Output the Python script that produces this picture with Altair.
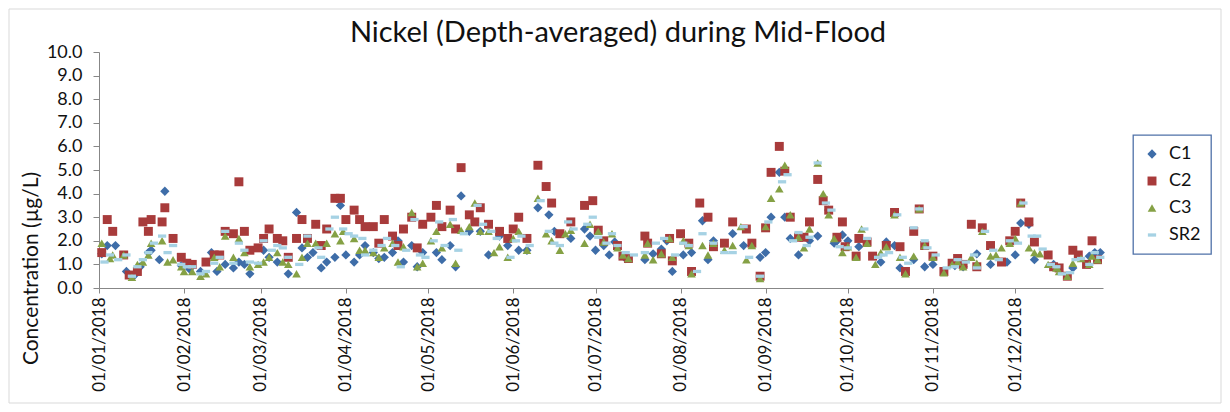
import altair as alt
import pandas as pd

# ---- data (day offset from 2018-01-01, value in ug/L) ----
c1_days = [1, 3, 6, 10, 13, 15, 18, 19, 22, 24, 30, 33, 37, 41, 43, 46, 49, 51, 53, 55,
           60, 62, 65, 69, 72, 74, 76, 78, 81, 83, 86, 88, 90, 93, 95, 97, 100, 102, 104, 107,
           109, 111, 114, 116, 118, 123, 125, 128, 130, 132, 135, 139, 142, 146, 149, 153, 156, 160, 164, 166,
           172, 177, 179, 181, 184, 186, 188, 192, 199, 202, 205, 207, 209, 213, 216, 220, 222, 224, 231, 235,
           241, 243, 245, 248, 250, 252, 255, 259, 262, 266, 268, 269, 271, 273, 277, 285, 287, 290, 292, 297,
           301, 304, 312, 315, 320, 325, 331, 334, 336, 339, 341, 348, 355, 361, 363, 365]
c1_vals = [1.45, 1.8, 1.8, 0.7, 0.55, 0.9, 1.5, 1.6, 1.2, 4.1, 0.95, 0.8, 0.7, 1.5, 0.7, 1.0, 0.85, 1.1, 1.0, 0.6,
           1.6, 1.3, 1.1, 0.6, 3.2, 1.7, 1.3, 1.5, 0.85, 1.1, 1.3, 3.5, 1.4, 1.1, 1.4, 1.8, 1.5, 1.25, 1.3, 1.5,
           2.0, 1.1, 1.8, 0.9, 1.5, 1.5, 1.2, 1.8, 0.9, 3.9, 2.4, 2.4, 1.4, 2.2, 1.8, 1.6, 1.6, 3.4, 3.1, 2.4,
           2.1, 2.5, 2.2, 1.6, 1.8, 1.4, 1.95, 1.25, 1.2, 1.45, 1.65, 2.0, 0.7, 1.4, 1.5, 2.85, 1.2, 2.0, 2.3, 1.8,
           1.3, 1.5, 3.0, 4.9, 3.0, 2.1, 1.4, 2.0, 2.2, 3.3, 1.9, 2.0, 2.25, 2.0, 1.75, 1.1, 1.95, 1.8, 0.85, 1.2,
           0.9, 1.0, 0.95, 0.9, 1.45, 1.0, 1.1, 1.4, 2.75, 2.7, 1.2, 1.0, 0.85, 1.35, 1.5, 1.5]

c2_days = [1, 3, 5, 9, 11, 14, 16, 18, 19, 23, 24, 27, 30, 32, 34, 39, 42, 44, 46, 49,
           51, 53, 55, 58, 60, 62, 65, 67, 69, 72, 74, 76, 79, 81, 83, 86, 88, 90, 93, 95,
           97, 100, 102, 104, 107, 109, 111, 114, 116, 118, 121, 123, 125, 128, 130, 132, 135, 137, 139, 142,
           146, 149, 151, 153, 156, 160, 163, 165, 168, 172, 177, 180, 182, 184, 189, 191, 193, 199, 200, 205,
           208, 209, 212, 215, 216, 219, 222, 224, 228, 231, 236, 238, 241, 243, 245, 248, 250, 252, 255, 257,
           259, 262, 264, 266, 269, 271, 272, 276, 277, 280, 282, 287, 290, 292, 294, 297, 299, 301, 304, 308,
           311, 313, 315, 318, 320, 322, 325, 329, 332, 334, 336, 339, 341, 346, 348, 350, 353, 355, 357, 360,
           362, 364]
c2_vals = [1.5, 2.9, 2.4, 1.4, 0.55, 0.7, 2.8, 2.4, 2.9, 2.8, 3.4, 2.1, 1.3, 1.05, 1.0, 1.1, 1.4, 1.4, 2.4, 2.3,
           4.5, 2.4, 1.6, 1.7, 2.1, 2.5, 2.1, 2.0, 1.3, 2.1, 2.9, 2.1, 2.7, 1.8, 2.5, 3.8, 3.8, 2.9, 3.3, 2.9,
           2.6, 2.6, 1.9, 2.9, 2.2, 1.8, 2.5, 3.0, 1.7, 2.7, 3.0, 3.5, 2.6, 3.3, 2.5, 5.1, 3.1, 2.8, 3.4, 2.7,
           2.4, 2.1, 2.5, 3.0, 2.1, 5.2, 4.3, 3.6, 2.3, 2.8, 3.5, 3.7, 2.45, 2.0, 1.8, 1.35, 1.25, 2.2, 1.9, 1.45,
           2.1, 1.15, 2.3, 1.9, 0.7, 3.6, 3.0, 1.75, 1.9, 2.8, 2.5, 1.9, 0.5, 2.55, 4.9, 6.0, 4.95, 3.0, 2.15, 2.15,
           2.8, 4.6, 3.7, 3.3, 2.15, 2.8, 1.75, 1.35, 2.1, 1.95, 1.35, 1.8, 3.2, 1.75, 0.7, 2.4, 3.35, 1.8, 1.35, 0.7,
           1.05, 1.25, 1.0, 2.7, 0.9, 2.55, 1.8, 1.1, 2.0, 2.4, 3.6, 2.8, 1.95, 1.4, 0.9, 0.85, 0.5, 1.6, 1.4, 1.0,
           2.0, 1.2]

c3_days = [1, 4, 5, 9, 12, 14, 16, 18, 19, 23, 25, 27, 30, 31, 34, 37, 39, 42, 44, 46,
           49, 51, 53, 55, 58, 60, 62, 65, 67, 69, 72, 74, 76, 79, 83, 86, 88, 89, 93, 95,
           97, 100, 102, 104, 107, 109, 111, 114, 116, 118, 121, 123, 125, 128, 130, 132, 135, 137, 139, 142,
           144, 146, 149, 151, 153, 156, 160, 163, 165, 168, 170, 172, 177, 179, 182, 184, 187, 189, 191, 193,
           199, 200, 202, 205, 208, 209, 213, 215, 216, 220, 222, 224, 228, 231, 234, 236, 238, 241, 243, 245,
           248, 250, 252, 255, 257, 259, 262, 264, 266, 268, 271, 273, 276, 278, 280, 283, 285, 287, 290, 292,
           294, 297, 299, 301, 304, 308, 311, 313, 315, 318, 320, 322, 325, 327, 329, 332, 334, 336, 339, 341,
           343, 346, 349, 350, 353, 355, 358, 361, 362, 364]
c3_vals = [1.9, 1.25, 1.4, 1.4, 0.45, 1.0, 1.1, 1.4, 1.9, 2.0, 1.1, 1.2, 0.9, 0.7, 0.7, 0.5, 0.6, 1.3, 0.9, 2.2,
           1.3, 2.1, 1.5, 0.9, 1.0, 1.1, 1.3, 1.5, 1.1, 1.0, 0.6, 1.3, 1.9, 1.9, 1.9, 2.3, 2.0, 2.4, 2.1, 1.6,
           1.6, 1.5, 1.3, 1.7, 1.9, 1.1, 1.75, 3.2, 0.9, 1.05, 2.0, 2.4, 1.7, 2.7, 1.05, 2.45, 2.6, 3.6, 2.4, 2.4,
           1.5, 1.75, 1.3, 2.1, 2.4, 1.6, 3.8, 2.3, 2.0, 1.6, 2.3, 2.45, 1.9, 2.7, 2.4, 1.95, 2.3, 1.7, 1.4, 1.25,
           1.4, 1.9, 1.2, 1.45, 2.1, 1.3, 2.0, 1.8, 0.6, 1.8, 1.4, 1.9, 1.6, 1.8, 2.6, 1.2, 1.8, 0.4, 2.6, 3.8,
           4.2, 5.2, 3.1, 2.15, 1.7, 2.5, 5.3, 4.0, 3.1, 2.1, 1.5, 1.75, 1.3, 2.5, 1.9, 1.0, 1.5, 1.75, 3.1, 1.3,
           0.6, 1.35, 3.35, 1.8, 1.3, 0.65, 1.0, 1.1, 0.9, 1.3, 1.05, 2.4, 1.35, 1.4, 1.7, 1.9, 2.1, 3.6, 1.7, 1.5,
           1.45, 1.0, 0.85, 0.7, 0.5, 1.05, 1.25, 1.0, 1.35, 1.2]

sr2_days = [2, 4, 7, 10, 12, 14, 16, 18, 20, 23, 25, 27, 30, 32, 34, 37, 39, 42, 44, 46,
            49, 51, 53, 55, 58, 60, 63, 65, 67, 69, 73, 76, 80, 81, 84, 86, 89, 91, 93, 96,
            97, 100, 103, 105, 108, 110, 112, 115, 117, 119, 122, 124, 126, 129, 131, 133, 138, 140, 143, 145,
            150, 152, 154, 157, 161, 164, 166, 168, 171, 173, 178, 180, 182, 185, 187, 189, 192, 195, 199, 203,
            206, 210, 213, 215, 218, 220, 224, 228, 231, 235, 237, 241, 244, 249, 251, 253, 255, 258, 259, 262,
            265, 267, 270, 273, 279, 280, 284, 286, 288, 291, 293, 295, 297, 299, 301, 302, 305, 309, 312, 313,
            316, 319, 320, 323, 326, 328, 332, 335, 337, 340, 342, 344, 347, 349, 351, 354, 356, 358, 361, 363,
            365]
sr2_vals = [1.1, 1.4, 1.2, 1.4, 0.5, 0.9, 1.2, 1.5, 1.9, 2.2, 1.5, 1.8, 1.0, 0.9, 0.9, 0.6, 0.7, 1.05, 1.3, 2.4,
            1.05, 1.9, 1.6, 1.1, 1.05, 2.0, 1.6, 1.8, 1.7, 1.3, 1.0, 2.2, 1.7, 1.3, 2.5, 3.0, 2.5, 2.3, 2.2, 2.1,
            1.4, 1.6, 1.8, 2.1, 1.8, 0.9, 1.6, 2.9, 1.4, 1.3, 2.0, 2.8, 1.8, 2.9, 1.6, 2.3, 3.5, 2.7, 2.4, 2.1,
            1.3, 2.0, 2.2, 1.8, 3.7, 2.4, 1.9, 1.8, 2.8, 2.5, 2.7, 3.0, 2.15, 1.9, 2.3, 1.8, 1.5, 1.4, 1.5, 1.9,
            2.1, 1.4, 1.9, 1.8, 0.7, 2.3, 1.9, 1.5, 1.5, 2.6, 1.3, 0.5, 2.8, 4.5, 4.8, 2.0, 2.35, 1.8, 2.15, 5.3,
            3.6, 3.3, 1.75, 1.7, 2.5, 2.1, 1.3, 1.4, 1.5, 3.1, 1.3, 1.05, 2.55, 3.35, 2.0, 1.7, 1.4, 0.85, 0.9, 1.2,
            1.1, 1.4, 0.85, 2.4, 1.6, 1.2, 2.0, 1.9, 3.6, 2.2, 2.2, 1.65, 1.0, 0.9, 0.6, 0.65, 1.2, 1.25, 1.0, 1.5,
            1.3]

series_names = ["C1", "C2", "C3", "SR2"]
series_colors = ["#3E6DA8", "#A83B3B", "#85A145", "#A6D2E4"]
series_shapes = ["diamond", "square", "triangle-up", "M-1,-0.4L1,-0.4L1,0.4L-1,0.4Z"]
series_sizes = [86, 68, 100, 50]
month_ticks = list(range(1, 13))

# ---- build long table (drawn in series order: C1, C2, C3, SR2) ----
frames = []
for name, days, vals in [("C1", c1_days, c1_vals), ("C2", c2_days, c2_vals),
                         ("C3", c3_days, c3_vals), ("SR2", sr2_days, sr2_vals)]:
    dates = (pd.Timestamp("2018-01-01") + pd.to_timedelta(days, unit="D")).strftime("%Y-%m-%d")
    frames.append(pd.DataFrame({"date": dates, "value": vals, "series": name}))
df = pd.concat(frames, ignore_index=True)

FONT = "Lato"
W, H = 1004, 236

points = alt.Chart(df).mark_point(filled=True, opacity=1, strokeWidth=0).encode(
    x=alt.X(
        "date:T",
        scale=alt.Scale(type="utc",
                        domain=[alt.DateTime(year=2018, month=1, date=1, utc=True),
                                alt.DateTime(year=2019, month=1, date=2, utc=True)]),
        axis=alt.Axis(
            title=None,
            values=[alt.DateTime(year=2018, month=m, date=1, utc=True) for m in month_ticks],
            labelExpr="utcFormat(datum.value, '%d/%m/%Y')",
            labelAngle=-90, labelAlign="right", labelBaseline="middle",
            labelFontSize=17, labelPadding=4, tickSize=5, grid=False,
        ),
    ),
    y=alt.Y(
        "value:Q",
        scale=alt.Scale(domain=[0, 10]),
        axis=alt.Axis(
            title="Concentration (µg/L)", titleFontSize=21, titleFontWeight="normal",
            titleAngle=270, titleX=-68, titleY=216, titleAlign="center", titleBaseline="middle",
            values=list(range(0, 11)), format=".1f", labelFontSize=18,
            tickSize=6, labelPadding=11, grid=False,
        ),
    ),
    color=alt.Color("series:N", scale=alt.Scale(domain=series_names, range=series_colors),
                    legend=alt.Legend(title=None)),
    shape=alt.Shape("series:N", scale=alt.Scale(domain=series_names, range=series_shapes),
                    legend=alt.Legend(title=None)),
    size=alt.Size("series:N", scale=alt.Scale(domain=series_names, range=series_sizes),
                  legend=alt.Legend(title=None)),
)

frame = alt.Chart(alt.Data(values=[{"a": 1}])).mark_rect(
    fill=None, stroke="#D9D9D9", strokeWidth=1
).encode(
    x=alt.value(-90), x2=alt.value(W + 118),
    y=alt.value(-43), y2=alt.value(H + 115),
)

chart = alt.layer(frame, points).properties(
    width=W, height=H,
    title=alt.TitleParams("Nickel (Depth-averaged) during Mid-Flood", fontSize=29,
                          fontWeight="normal", font=FONT, color="#111111",
                          anchor="middle", frame="group", dx=17, offset=-39),
    padding={"left": 91, "top": 44, "right": 119, "bottom": 116},
    autosize=alt.AutoSizeParams(type="none"),
).configure(
    font=FONT,
).configure_view(
    stroke=None,
).configure_axis(
    domainColor="#878787", tickColor="#878787", labelColor="#111111", titleColor="#111111",
    labelFont=FONT, titleFont=FONT,
).configure_legend(
    orient="none", legendX=1034, legendY=83,
    strokeColor="#4F71A8", strokeWidth=1.3, padding=10,
    labelFontSize=18, labelFont=FONT, labelColor="#111111",
    rowPadding=9, symbolStrokeWidth=0, labelOffset=8,
)

chart.save("out.html", embed_options={"renderer": "svg", "actions": False})
